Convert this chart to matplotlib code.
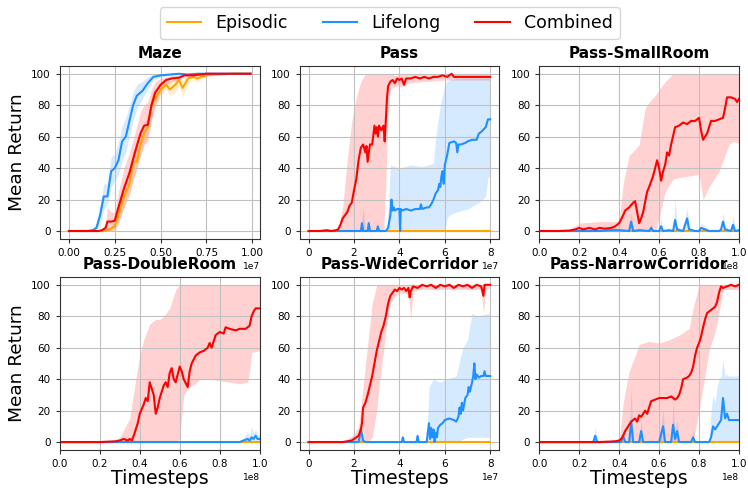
import matplotlib.pyplot as plt

plt.rcParams['font.family'] = 'DejaVu Sans'

titles = ["Maze", "Pass", "Pass-SmallRoom",
          "Pass-DoubleRoom", "Pass-WideCorridor", "Pass-NarrowCorridor"]
scales = [1e7, 1e7, 1e8, 1e8, 1e7, 1e8]
methods = ["Episodic", "Lifelong", "Combined"]
colors = {"Episodic": "orange", "Lifelong": "dodgerblue", "Combined": "red"}

# ---- Maze (steps in 1e7) ----
maze_epi_x = [0, 0.10, 0.18, 0.20, 0.22, 0.25, 0.27, 0.30, 0.33, 0.35, 0.37, 0.39, 0.41, 0.43, 0.45,
              0.47, 0.50, 0.53, 0.55, 0.58, 0.60, 0.62, 0.65, 0.68, 0.70, 0.72, 0.75, 0.80, 0.90, 0.99]
maze_epi = [0, 0, 0, 0.5, 1, 3, 10, 22, 30, 44, 44, 55, 62, 66, 80,
            84, 90, 93, 90, 93, 96, 91, 97, 98, 97, 98, 99, 99.5, 100, 100]
maze_epi_lo = [0, 0, 0, 0, 0, 1, 5, 15, 22, 35, 38, 48, 55, 60, 72,
               78, 86, 90, 86, 88, 92, 85, 94, 96, 95, 96, 98, 99, 100, 100]
maze_epi_hi = [0, 0, 0, 1, 2, 6, 15, 30, 38, 52, 52, 62, 68, 74, 86,
               90, 94, 97, 95, 97, 99, 96, 99, 99, 99, 99, 100, 100, 100, 100]

maze_life_x = [0, 0.05, 0.10, 0.13, 0.15, 0.17, 0.19, 0.21, 0.23, 0.25, 0.27, 0.29, 0.31, 0.33,
               0.35, 0.37, 0.40, 0.43, 0.46, 0.50, 0.55, 0.60, 0.65, 0.70, 0.80, 0.90, 0.99]
maze_life = [0, 0, 0, 0.5, 2, 10, 22, 22, 38, 40, 45, 57, 60, 70,
             80, 86, 89, 94, 98, 99, 99.5, 100, 99.5, 100, 100, 100, 100]
maze_life_lo = [0, 0, 0, 0, 0.5, 4, 14, 17, 28, 32, 36, 45, 50, 60,
                70, 78, 84, 90, 96, 98, 99, 99.5, 99, 100, 100, 100, 100]
maze_life_hi = [0, 0, 0, 1, 5, 17, 30, 30, 47, 49, 56, 67, 72, 80,
                88, 93, 95, 98, 99.5, 100, 100, 100, 100, 100, 100, 100, 100]

maze_comb_x = [0, 0.10, 0.16, 0.18, 0.20, 0.21, 0.23, 0.25, 0.27, 0.30, 0.33, 0.36, 0.39,
               0.41, 0.43, 0.45, 0.47, 0.50, 0.53, 0.56, 0.60, 0.63, 0.68, 0.75, 0.85, 0.99]
maze_comb = [0, 0, 0, 0.5, 2, 6, 6, 6.5, 15, 27, 37, 50, 62,
             67, 67.5, 80, 88, 93, 96, 97, 97.5, 99, 99, 100, 100, 100]
maze_comb_lo = [0, 0, 0, 0, 0, 0, 0, 1, 5, 15, 24, 36, 48,
                55, 57, 70, 80, 88, 93, 95, 96, 98, 98.5, 99.5, 100, 100]
maze_comb_hi = [0, 0, 0, 1, 5, 15, 12, 12, 25, 40, 50, 62, 76,
                80, 82, 90, 95, 97, 98, 99, 99, 100, 100, 100, 100, 100]

# ---- Pass (steps in 1e7) ----
pass_epi_x = [0, 8]
pass_epi = [0, 0]

pass_life_x = [0, 1.5, 2.3, 2.35, 2.4, 2.5, 2.6, 2.65, 2.7, 2.8,
               3.0, 3.05, 3.1, 3.4, 3.5, 3.6, 3.65, 3.7, 3.75, 3.8,
               3.9, 4.0, 4.03, 4.06, 4.1, 4.3, 4.5, 4.7, 4.9, 4.95,
               5.0, 5.2, 5.3, 5.4, 5.5, 5.6, 5.7, 5.75, 5.8, 5.85,
               5.9, 5.95, 6.0, 6.1, 6.2, 6.4, 6.5, 6.55, 6.6, 6.7,
               6.9, 7.0, 7.2, 7.4, 7.5, 7.6, 7.8, 7.9, 8.0]
pass_life = [0, 0, 0, 5, 0, 0, 0, 5, 0, 0,
             0, 3, 0, 0, 2, 10, 20, 13, 15, 13,
             14, 14, 0, 14, 13, 14, 13, 14, 14, 17,
             14, 15, 15, 17, 20, 24, 26, 30, 28, 35,
             38, 30, 42, 48, 56, 57, 56, 50, 55, 55,
             56, 57, 58, 58, 62, 63, 66, 71, 71]
pass_life_bx = [0, 2.3, 2.4, 2.5, 3.45, 3.6, 4.0, 4.5, 5.0, 5.5, 5.6,
                5.8, 6.0, 6.1, 6.2, 6.5, 7.0, 7.5, 7.8, 7.9, 8.0]
pass_life_lo = [0, 0, 0, 0, 0, 0, 0, 0, 0, 0, 0,
                0, 0, 8, 10, 12, 14, 18, 22, 34, 35]
pass_life_hi = [0, 0, 15, 0, 0, 42, 40, 42, 41, 43, 60,
                80, 93, 95, 96, 97, 97, 97, 97, 97, 97]

pass_comb_x = [0, 0.5, 0.8, 1.0, 1.2, 1.3, 1.4, 1.5, 1.6, 1.7,
               1.8, 1.9, 2.0, 2.1, 2.2, 2.3, 2.4, 2.5, 2.55, 2.6,
               2.7, 2.8, 2.9, 2.95, 3.0, 3.05, 3.1, 3.2, 3.3, 3.35,
               3.4, 3.45, 3.5, 3.6, 3.7, 3.8, 3.9, 4.0, 4.1, 4.2,
               4.3, 4.5, 4.7, 4.9, 5.1, 5.3, 5.5, 5.7, 5.9, 6.1,
               6.3, 6.4, 6.6, 7.0, 7.5, 8.0]
pass_comb = [0, 0, 0.5, 0, 0.5, 1, 4, 8, 10, 12,
             16, 18, 26, 33, 45, 53, 55, 50, 54, 44,
             55, 55, 67, 62, 66, 60, 67, 64, 67, 57,
             70, 84, 92, 95, 96, 94, 97, 96, 97, 93,
             97, 97, 98, 97, 98, 97, 98, 98, 99, 98,
             100, 98, 98, 98, 98, 98]
pass_comb_bx = [0, 1.3, 1.5, 1.7, 1.9, 2.1, 2.3, 2.5, 3.2, 3.3, 3.4,
                3.5, 3.6, 3.8, 4.2, 4.4, 5.0, 6.0, 7.0, 8.0]
pass_comb_lo = [0, 0, 0, 0, 0, 0, 0, 0, 0, 0, 30,
                75, 90, 92, 92, 94, 95, 96, 96, 96]
pass_comb_hi = [0, 1, 15, 45, 70, 85, 95, 100, 100, 100, 100,
                100, 100, 99, 100, 100, 100, 100, 100, 100]

# ---- Pass-SmallRoom (steps in 1e8) ----
small_epi_x = [0, 1]
small_epi = [0, 0]

small_life_x = [0, 0.3, 0.35, 0.4, 0.45, 0.46, 0.47, 0.5, 0.55, 0.56, 0.57,
                0.6, 0.61, 0.62, 0.65, 0.67, 0.68, 0.69, 0.72, 0.74, 0.75, 0.78,
                0.8, 0.81, 0.85, 0.9, 0.91, 0.92, 0.93, 0.96, 0.97, 0.98, 1.0]
small_life = [0, 0, 0.5, 0.5, 0, 6, 0, 0.5, 0, 2, 0,
              0, 3, 0, 0.5, 0, 7, 1, 0, 8, 1, 0,
              0, 2, 0, 0, 1, 6, 1, 0, 4, 0, 0.5]
small_life_hi = [0, 0, 2, 2, 0, 12, 0, 2, 0, 5, 0,
                 0, 8, 0, 2, 0, 20, 3, 0, 15, 3, 0,
                 0, 5, 0, 0, 3, 12, 3, 0, 10, 0, 2]

small_comb_x = [0, 0.1, 0.15, 0.18, 0.2, 0.22, 0.25, 0.28, 0.3, 0.33,
                0.36, 0.38, 0.4, 0.42, 0.43, 0.45, 0.47, 0.48, 0.49, 0.5,
                0.51, 0.52, 0.54, 0.55, 0.57, 0.58, 0.59, 0.6, 0.61, 0.62,
                0.63, 0.64, 0.65, 0.66, 0.68, 0.7, 0.72, 0.74, 0.76, 0.78,
                0.8, 0.81, 0.82, 0.84, 0.86, 0.88, 0.9, 0.92, 0.93, 0.94,
                0.96, 0.98, 0.99, 1.0]
small_comb = [0, 0, 0.3, 1, 2, 1, 2, 1, 2, 1.5,
              2, 3, 5, 10, 13, 15, 18, 19, 12, 5,
              8, 12, 25, 28, 35, 40, 45, 40, 32, 38,
              42, 50, 48, 55, 66, 67, 69, 68, 70, 70,
              72, 64, 58, 62, 70, 70, 71, 72, 78, 85,
              85, 84, 82, 84]
small_comb_bx = [0, 0.15, 0.2, 0.3, 0.4, 0.42, 0.45, 0.48, 0.5, 0.53, 0.55, 0.58,
                 0.6, 0.63, 0.67, 0.7, 0.75, 0.8, 0.82, 0.85, 0.9, 0.95, 0.97, 1.0]
small_comb_lo = [0, 0, 0, 0, 0, 0, 0, 0, 0, 0, 0, 0,
                 8, 25, 33, 34, 35, 36, 20, 28, 38, 55, 57, 56]
small_comb_hi = [0, 1, 5, 6, 6, 30, 48, 52, 55, 78, 82, 86,
                 90, 95, 100, 100, 100, 100, 100, 100, 100, 100, 100, 100]

# ---- Pass-DoubleRoom (steps in 1e8) ----
double_epi_x = [0, 1]
double_epi = [0, 0]

double_life_x = [0, 0.9, 0.92, 0.94, 0.95, 0.96, 0.97, 0.98, 0.99, 1.0]
double_life = [0, 0, 1, 2, 1, 3, 2, 4, 2, 2]
double_life_hi = [0, 0, 3, 6, 4, 10, 6, 8, 5, 5]

double_comb_x = [0, 0.2, 0.25, 0.28, 0.3, 0.32, 0.34, 0.35, 0.36, 0.37,
                 0.38, 0.39, 0.4, 0.42, 0.43, 0.44, 0.45, 0.46, 0.47, 0.48,
                 0.49, 0.5, 0.52, 0.53, 0.54, 0.55, 0.56, 0.57, 0.58, 0.6,
                 0.61, 0.62, 0.64, 0.65, 0.66, 0.68, 0.7, 0.72, 0.74, 0.75,
                 0.76, 0.78, 0.8, 0.82, 0.83, 0.85, 0.88, 0.9, 0.93, 0.95,
                 0.96, 0.97, 0.98, 1.0]
double_comb = [0, 0, 0.3, 0.5, 1, 2, 1, 2, 1, 4,
               8, 12, 18, 24, 28, 26, 38, 34, 30, 18,
               22, 28, 36, 38, 35, 44, 47, 40, 38, 48,
               45, 40, 35, 45, 50, 55, 57, 58, 60, 63,
               60, 68, 70, 69, 73, 72, 71, 72, 72, 74,
               80, 83, 85, 85]
double_comb_bx = [0, 0.25, 0.3, 0.35, 0.38, 0.4, 0.42, 0.45, 0.48, 0.5, 0.52, 0.55, 0.58,
                  0.6, 0.62, 0.65, 0.68, 0.7, 0.75, 0.8, 0.85, 0.9, 0.94, 0.95, 0.96, 1.0]
double_comb_lo = [0, 0, 0, 0, 0, 0, 0, 0, 0, 0, 0, 0, 0,
                  2, 30, 35, 37, 40, 40, 39, 38, 37, 38, 45, 57, 58]
double_comb_hi = [0, 0, 3, 15, 40, 55, 65, 75, 78, 78, 80, 85, 97,
                  100, 100, 100, 100, 100, 100, 100, 100, 100, 100, 100, 100, 100]

# ---- Pass-WideCorridor (steps in 1e7) ----
wide_epi_x = [0, 8]
wide_epi = [0, 0]

wide_life_x = [0, 1.5, 2.2, 2.3, 2.4, 2.5, 3.0, 4.1, 4.15, 4.2,
               4.5, 4.75, 4.8, 4.85, 5.2, 5.3, 5.35, 5.4, 5.45, 5.5,
               5.55, 5.6, 5.65, 5.7, 5.8, 5.9, 6.0, 6.2, 6.4, 6.5,
               6.6, 6.65, 6.7, 6.75, 6.8, 6.85, 6.9, 7.0, 7.05, 7.1,
               7.2, 7.25, 7.3, 7.35, 7.4, 7.5, 7.6, 7.7, 7.75, 7.8,
               7.9, 8.0]
wide_life = [0, 0, 0, 8, 1, 0, 0, 0, 3, 0,
             0, 0, 4, 0, 0, 12, 2, 9, 3, 8,
             0, 6, 3, 9, 11, 12, 14, 15, 14, 13,
             16, 22, 18, 25, 20, 24, 28, 30, 35, 32,
             38, 42, 50, 40, 43, 41, 42, 42, 45, 42,
             42, 42]
wide_life_bx = [0, 2.2, 2.3, 2.4, 5.2, 5.3, 5.5, 5.8, 6.0, 6.3, 6.5, 6.7, 6.8, 7.0, 7.2, 7.4, 8.0]
wide_life_lo = [0, 0, 0, 0, 0, 0, 0, 0, 0, 0, 0, 1, 2, 3, 3, 3, 3]
wide_life_hi = [0, 0, 15, 0, 0, 35, 40, 38, 40, 41, 42, 55, 60, 65, 82, 80, 82]

wide_comb_x = [0, 1.0, 1.5, 1.7, 1.9, 2.0, 2.1, 2.2, 2.3, 2.35,
               2.4, 2.5, 2.6, 2.7, 2.8, 2.9, 3.0, 3.1, 3.2, 3.3,
               3.4, 3.5, 3.6, 3.7, 3.8, 3.9, 4.0, 4.1, 4.2, 4.3,
               4.4, 4.45, 4.5, 4.6, 4.8, 5.0, 5.2, 5.4, 5.6, 5.8,
               6.0, 6.2, 6.4, 6.6, 6.8, 7.0, 7.2, 7.4, 7.6, 7.7,
               7.75, 7.8, 8.0]
wide_comb = [0, 0, 0, 0.5, 1, 2, 3, 4, 8, 12,
             22, 25, 30, 36, 42, 50, 58, 64, 70, 74,
             80, 88, 93, 95, 97, 96, 98, 97, 98, 96,
             98, 92, 96, 99, 98, 100, 99, 100, 98, 100,
             99, 100, 98, 100, 99, 100, 98, 100, 99, 93,
             100, 100, 100]
wide_comb_bx = [0, 1.5, 2.0, 2.2, 2.4, 2.6, 2.8, 3.0, 3.1, 3.2, 3.4,
                3.6, 3.8, 4.0, 4.4, 4.5, 4.6, 4.8, 7.6, 7.7, 7.8, 8.0]
wide_comb_lo = [0, 0, 0, 0, 0, 0, 3, 20, 35, 46, 70,
                88, 93, 95, 94, 78, 95, 97, 97, 82, 97, 98]
wide_comb_hi = [0, 0, 5, 10, 35, 62, 88, 100, 100, 100, 100,
                100, 100, 100, 100, 100, 100, 100, 100, 100, 100, 100]

# ---- Pass-NarrowCorridor (steps in 1e8) ----
narrow_epi_x = [0, 1]
narrow_epi = [0, 0]

narrow_life_x = [0, 0.27, 0.28, 0.29, 0.41, 0.42, 0.43, 0.45, 0.46, 0.47,
                 0.5, 0.51, 0.52, 0.6, 0.62, 0.63, 0.66, 0.67, 0.68, 0.69,
                 0.7, 0.76, 0.77, 0.78, 0.85, 0.86, 0.87, 0.88, 0.89, 0.9,
                 0.91, 0.92, 0.93, 0.94, 0.95, 0.96, 0.98, 1.0]
narrow_life = [0, 0, 4, 0, 0, 4, 0, 0, 13, 0,
               0, 7, 0, 0, 10, 0, 0, 11, 2, 7,
               0, 0, 3, 0, 0, 3, 10, 8, 10, 12,
               14, 28, 15, 18, 14, 14, 14, 14]
narrow_life_hi = [0, 0, 10, 0, 0, 8, 0, 0, 35, 0,
                  0, 15, 0, 0, 20, 0, 0, 25, 5, 15,
                  0, 0, 8, 0, 0, 20, 30, 25, 35, 40,
                  42, 52, 42, 43, 42, 42, 42, 42]

narrow_comb_x = [0, 0.2, 0.3, 0.35, 0.38, 0.4, 0.41, 0.42, 0.43, 0.44,
                 0.45, 0.46, 0.47, 0.48, 0.49, 0.5, 0.51, 0.52, 0.53, 0.54,
                 0.55, 0.56, 0.58, 0.6, 0.62, 0.64, 0.66, 0.68, 0.69, 0.7,
                 0.71, 0.72, 0.74, 0.75, 0.76, 0.77, 0.78, 0.79, 0.8, 0.81,
                 0.82, 0.83, 0.84, 0.85, 0.86, 0.87, 0.88, 0.89, 0.9, 0.91,
                 0.92, 0.94, 0.96, 0.98, 1.0]
narrow_comb = [0, 0, 0, 0.3, 0.5, 1, 2, 4, 7, 9,
               11, 13, 14, 15, 13, 17, 16, 18, 20, 18,
               22, 26, 27, 28, 28, 28, 29, 27, 28, 30,
               34, 40, 41, 42, 44, 48, 55, 60, 63, 67,
               73, 78, 82, 83, 84, 85, 86, 89, 95, 99,
               98, 99, 100, 99, 100]
narrow_comb_bx = [0, 0.4, 0.42, 0.45, 0.48, 0.5, 0.55, 0.6, 0.65, 0.7,
                  0.75, 0.77, 0.8, 0.82, 0.85, 0.88, 0.9, 0.92, 1.0]
narrow_comb_lo = [0, 0, 0, 0, 0, 0, 0, 0, 0, 0,
                  0, 0, 20, 35, 58, 70, 82, 97, 97]
narrow_comb_hi = [0, 0, 25, 45, 55, 62, 64, 63, 65, 68,
                  72, 85, 100, 100, 100, 100, 100, 100, 100]

# per panel: (x, mean, band_x, band_lo, band_hi) for each method
panels = [
    {"Episodic": (maze_epi_x, maze_epi, maze_epi_x, maze_epi_lo, maze_epi_hi),
     "Lifelong": (maze_life_x, maze_life, maze_life_x, maze_life_lo, maze_life_hi),
     "Combined": (maze_comb_x, maze_comb, maze_comb_x, maze_comb_lo, maze_comb_hi)},
    {"Episodic": (pass_epi_x, pass_epi, None, None, None),
     "Lifelong": (pass_life_x, pass_life, pass_life_bx, pass_life_lo, pass_life_hi),
     "Combined": (pass_comb_x, pass_comb, pass_comb_bx, pass_comb_lo, pass_comb_hi)},
    {"Episodic": (small_epi_x, small_epi, None, None, None),
     "Lifelong": (small_life_x, small_life, small_life_x, 0, small_life_hi),
     "Combined": (small_comb_x, small_comb, small_comb_bx, small_comb_lo, small_comb_hi)},
    {"Episodic": (double_epi_x, double_epi, None, None, None),
     "Lifelong": (double_life_x, double_life, double_life_x, 0, double_life_hi),
     "Combined": (double_comb_x, double_comb, double_comb_bx, double_comb_lo, double_comb_hi)},
    {"Episodic": (wide_epi_x, wide_epi, None, None, None),
     "Lifelong": (wide_life_x, wide_life, wide_life_bx, wide_life_lo, wide_life_hi),
     "Combined": (wide_comb_x, wide_comb, wide_comb_bx, wide_comb_lo, wide_comb_hi)},
    {"Episodic": (narrow_epi_x, narrow_epi, None, None, None),
     "Lifelong": (narrow_life_x, narrow_life, narrow_life_x, 0, narrow_life_hi),
     "Combined": (narrow_comb_x, narrow_comb, narrow_comb_bx, narrow_comb_lo, narrow_comb_hi)},
]

fig, axes = plt.subplots(2, 3, figsize=(7.48, 4.88), dpi=100)
fig.subplots_adjust(left=0.080, right=0.988, top=0.865, bottom=0.078,
                    wspace=0.2, hspace=0.22)

for i, ax in enumerate(axes.flat):
    scale = scales[i]
    for m in methods:
        x, y, bx, lo, hi = panels[i][m]
        xs = [v * scale for v in x]
        if bx is not None:
            bxs = [v * scale for v in bx]
            ax.fill_between(bxs, lo, hi, color=colors[m], alpha=0.18, lw=0)
        ax.plot(xs, y, color=colors[m], lw=1.5, label=m)
    ax.set_title(titles[i], fontsize=11, fontweight="bold")
    ax.grid(True, color="#c0c0c0", lw=0.8)
    for sp in ax.spines.values():
        sp.set_edgecolor("#333333")
    ax.tick_params(labelsize=7.5, length=3, color="#333333")
    ax.set_yticks([0, 20, 40, 60, 80, 100])
    ax.xaxis.get_offset_text().set_fontsize(6.5)
    if i == 0:
        ax.set_xticks([0, 0.25e7, 0.5e7, 0.75e7, 1e7])
    elif scale == 1e7:
        ax.set_xticks([0, 2e7, 4e7, 6e7, 8e7])
    else:
        ax.set_xticks([0, 0.2e8, 0.4e8, 0.6e8, 0.8e8, 1e8])
        ax.set_xlim(0, 1e8)
    if i % 3 == 0:
        ax.set_ylabel("Mean Return", fontsize=13.3)
    if i >= 3:
        ax.set_xlabel("Timesteps", fontsize=13.7, labelpad=0)

handles, labels = axes[0, 0].get_legend_handles_labels()
fig.legend(handles, labels, loc="upper center", ncol=3, fontsize=12.5,
           bbox_to_anchor=(0.521, 1.003))

fig.savefig("out.png", dpi=100)
